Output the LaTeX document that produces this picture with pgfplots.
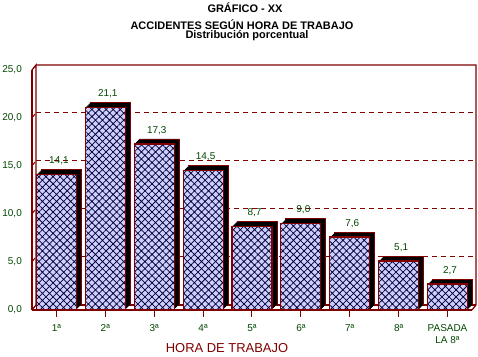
\documentclass[border=0pt]{standalone}
\usepackage{pgfplots}
\pgfplotsset{compat=1.18}
\usepackage{pgfplotstable}
\usepackage{fontspec}
\setmainfont{Liberation Sans}
\usetikzlibrary{patterns.meta}
\definecolor{dred}{RGB}{128,0,0}
\definecolor{dgreen}{RGB}{0,70,0}
\definecolor{lav}{RGB}{206,206,255}
\definecolor{hatchc}{RGB}{0,0,50}
\pgfplotstableread{
x y
0 14.1
1 21.1
2 17.3
3 14.5
4 8.7
5 9.0
6 7.6
7 5.1
8 2.7
}\datatable
\begin{document}
\begin{tikzpicture}
\useasboundingbox (0,0) rectangle (478bp,357bp);
\node[font=\bfseries\fontsize{11}{13}\selectfont, anchor=base] at (245bp,344.7bp) {GRÁFICO - XX};
\node[font=\bfseries\fontsize{11}{13}\selectfont, anchor=base] at (242bp,327.7bp) {ACCIDENTES SEGÚN HORA DE TRABAJO};
\node[font=\bfseries\fontsize{11}{13}\selectfont, anchor=base] at (247bp,318bp) {Distribución porcentual};
\node[font=\fontsize{13}{15}\selectfont, anchor=base, text=dred] at (227bp,4.3bp) {HORA DE TRABAJO};
\begin{axis}[
  at={(32bp,47bp)}, anchor=south west, scale only axis,
  width=440bp, height=240bp,
  xmin=-0.5, xmax=8.5, ymin=0, ymax=25,
  axis x line=bottom, axis y line=left,
  axis line style={dred, line width=1.3bp, -},
  xtick={0,...,8},
  xticklabels={1ª,2ª,3ª,4ª,5ª,6ª,7ª,8ª,{PASADA\\LA 8ª}},
  ytick={0,5,10,15,20,25},
  tick align=outside,
  major tick length=7bp,
  xtick style={draw=dred, line width=1bp},
  ytick style={draw=none},
  xticklabel style={font=\fontsize{10}{12}\selectfont, text=dgreen, inner sep=0pt, align=center, yshift=-7bp},
  yticklabel style={font=\fontsize{10}{12}\selectfont, text=dgreen, inner sep=0pt, xshift=-3bp},
  /pgf/number format/fixed, /pgf/number format/fixed zerofill,
  /pgf/number format/precision=1, /pgf/number format/use comma,
  /pgf/number format/assume math mode=true,
  clip=false,
]
% back wall, left wall and floor
\draw[dred, line width=1.3bp]
  (axis cs:-0.5,0) -- ([shift={(4bp,5bp)}]axis cs:-0.5,0)
  -- ([shift={(4bp,5bp)}]axis cs:-0.5,25) -- (axis cs:-0.5,25);
\draw[dred, line width=1.3bp]
  ([shift={(4bp,5bp)}]axis cs:-0.5,25) -- ([shift={(4bp,5bp)}]axis cs:8.5,25)
  -- ([shift={(4bp,5bp)}]axis cs:8.5,0) -- (axis cs:8.5,0);
\draw[dred, line width=1.3bp]
  ([shift={(4bp,5bp)}]axis cs:-0.5,0) -- ([shift={(4bp,5bp)}]axis cs:8.5,0);
\pgfplotsinvokeforeach{5,10,15,20}{
  \draw[dred, line width=1bp, dash pattern=on 5bp off 4bp]
    ([shift={(4bp,5bp)}]axis cs:-0.5,#1) -- ([shift={(1bp,5bp)}]axis cs:8.5,#1);
  \draw[dred, line width=1bp] (axis cs:-0.5,#1) -- ++(3bp,4bp);
}
% bar depth (shadow)
\addplot[ybar, bar width=40bp, bar shift=0pt, fill=black, draw=dred, line width=0.8bp,
  xshift=5bp, yshift=5bp] table[x=x,y=y] {\datatable};
\pgfplotsinvokeforeach{4,3,2,1}{
\addplot[ybar, bar width=40bp, bar shift=0pt, fill=black, draw=none,
  xshift=#1bp, yshift=#1bp] table[x=x,y=y] {\datatable};
}
% front faces
\addplot[ybar, bar width=40bp, bar shift=0pt, draw=dred, line width=1.2bp,
  preaction={fill=lav},
  pattern={Hatch[angle=45, distance=5bp, line width=0.75bp]}, pattern color=hatchc,
  nodes near coords,
  every node near coord/.append style={font=\fontsize{10}{12}\selectfont, text=dgreen,
    inner sep=0pt, anchor=south, xshift=2.5bp, yshift=9bp}
  ] table[x=x,y=y] {\datatable};
\end{axis}
\end{tikzpicture}
\end{document}
